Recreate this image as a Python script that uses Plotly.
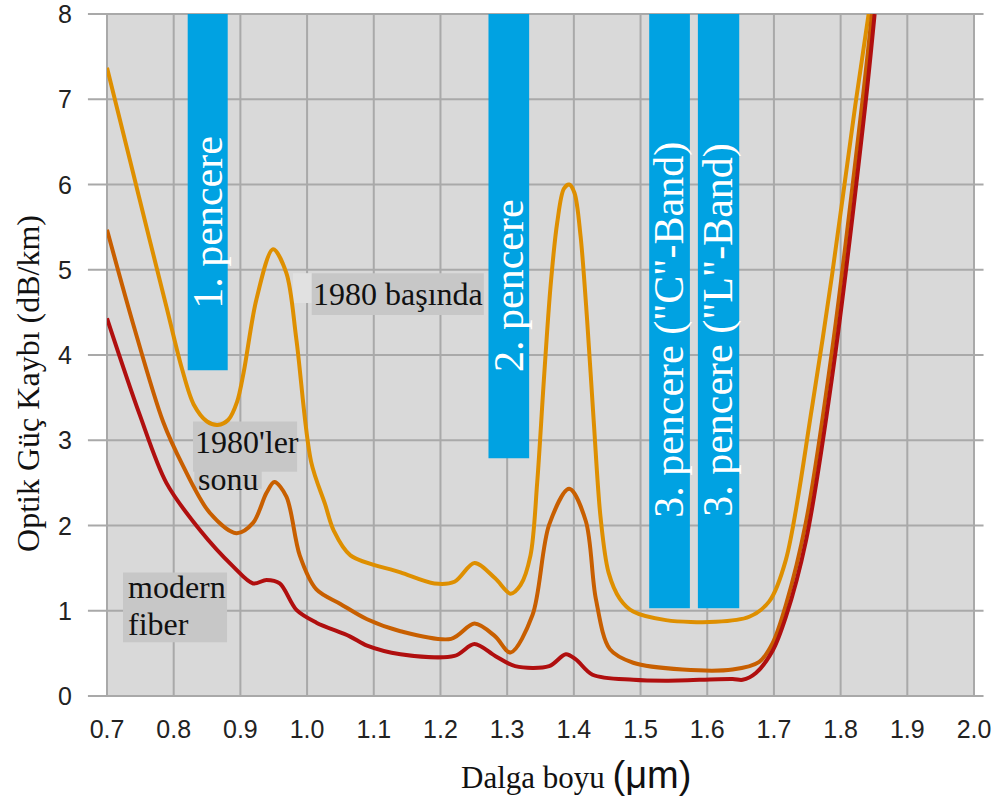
import plotly.graph_objects as go

# Wavelength (µm) and attenuation (dB/km) samples for each fibre generation
wl_early80 = [0.700, 0.739, 0.764, 0.789, 0.812, 0.830, 0.850, 0.866, 0.882, 0.895,
              0.905, 0.924, 0.949, 0.969, 0.984, 1.006, 1.027, 1.040, 1.065, 1.140,
              1.191, 1.221, 1.251, 1.282, 1.305, 1.320, 1.335, 1.345, 1.355, 1.365,
              1.375, 1.385, 1.393, 1.401, 1.410, 1.420, 1.430, 1.440, 1.452, 1.469,
              1.489, 1.538, 1.613, 1.663, 1.693, 1.718, 1.757, 1.787, 1.822, 1.842]
loss_early80 = [7.37, 6.14, 5.35, 4.57, 3.85, 3.42, 3.22, 3.18, 3.24, 3.45,
                3.80, 4.65, 5.24, 4.96, 4.18, 2.75, 2.25, 1.94, 1.65, 1.45,
                1.32, 1.34, 1.56, 1.38, 1.20, 1.30, 1.65, 2.50, 3.70, 4.80,
                5.55, 5.95, 6.00, 5.90, 5.40, 4.40, 3.20, 2.10, 1.45, 1.14,
                0.99, 0.89, 0.87, 0.93, 1.11, 1.60, 3.38, 4.93, 6.93, 8.00]

wl_late80 = [0.700, 0.739, 0.784, 0.814, 0.854, 0.894, 0.919, 0.939, 0.951, 0.969,
             0.989, 1.014, 1.050, 1.090, 1.140, 1.216, 1.251, 1.282, 1.305, 1.338,
             1.363, 1.393, 1.418, 1.433, 1.454, 1.489, 1.563, 1.638, 1.678, 1.698,
             1.718, 1.748, 1.787, 1.832, 1.847]
loss_late80 = [5.47, 4.37, 3.22, 2.70, 2.15, 1.91, 2.03, 2.38, 2.51, 2.34,
               1.65, 1.25, 1.08, 0.90, 0.76, 0.67, 0.85, 0.70, 0.51, 0.95,
               2.01, 2.43, 2.05, 1.14, 0.55, 0.39, 0.31, 0.31, 0.40, 0.62,
               1.07, 2.04, 4.04, 6.93, 8.00]

wl_modern = [0.700, 0.749, 0.789, 0.839, 0.889, 0.919, 0.939, 0.959, 0.984, 1.014,
             1.064, 1.090, 1.140, 1.221, 1.251, 1.282, 1.312, 1.363, 1.388, 1.403,
             1.428, 1.489, 1.538, 1.638, 1.653, 1.673, 1.698, 1.718, 1.748, 1.787,
             1.837, 1.851]
loss_modern = [4.43, 3.30, 2.50, 1.95, 1.52, 1.32, 1.36, 1.32, 1.01, 0.86,
               0.70, 0.59, 0.49, 0.47, 0.61, 0.47, 0.35, 0.35, 0.49, 0.43,
               0.25, 0.19, 0.18, 0.20, 0.19, 0.27, 0.53, 0.93, 1.82, 3.73,
               6.93, 8.00]

# Transmission windows: (start, end, lower edge, caption)
window_start = [0.821, 1.272, 1.513, 1.586]
window_end = [0.881, 1.333, 1.574, 1.648]
window_floor = [3.82, 2.79, 1.03, 1.03]
window_text = ["1. pencere", "2. pencere", '3. pencere ("C"-Band)', '3. pencere ("L"-Band)']
window_text_y = [5.56, 4.82, 4.29, 4.29]

x_ticks = [0.7, 0.8, 0.9, 1.0, 1.1, 1.2, 1.3, 1.4, 1.5, 1.6, 1.7, 1.8, 1.9, 2.0]
x_ticktext = ["0.7", "0.8", "0.9", "1.0", "1.1", "1.2", "1.3", "1.4", "1.5",
              "1.6", "1.7", "1.8", "1.9", "2.0"]
y_ticks = [0, 1, 2, 3, 4, 5, 6, 7, 8]
y_ticktext = ["0", "1", "2", "3", "4", "5", "6", "7", "8"]

X0, X1, Y0, Y1 = 0.7, 2.0, 0.0, 8.0
PLOT_BG = "#d9d9d9"
GRID = "#a9a9a9"
BAR = "#00a2e2"
LABEL_BG = "#c7c7c7"
SERIF = "Liberation Serif"
SANS = "Liberation Sans"


def px(v):
    return (v - X0) / (X1 - X0)


def py(v):
    return (v - Y0) / (Y1 - Y0)


fig = go.Figure()

series = [
    (wl_early80, loss_early80, "#de8f00", "1980 başında"),
    (wl_late80, loss_late80, "#c85f00", "1980'ler sonu"),
    (wl_modern, loss_modern, "#b00f0f", "modern fiber"),
]
for xs, ys, col, name in series:
    fig.add_trace(go.Scatter(
        x=xs, y=ys, mode="lines", name=name,
        line=dict(color=col, width=4, shape="spline", smoothing=0.9),
        hoverinfo="x+y+name",
    ))

shapes = []
# plot background
shapes.append(dict(type="rect", xref="paper", yref="paper", x0=0, x1=1, y0=0, y1=1,
                   fillcolor=PLOT_BG, line=dict(width=0), layer="below"))
# horizontal grid, reaching a little beyond the plotting area
for v in y_ticks:
    shapes.append(dict(type="line", xref="paper", yref="paper", x0=-0.022, x1=1.011,
                       y0=py(v), y1=py(v), line=dict(color=GRID, width=2), layer="below"))
# vertical grid
for v in x_ticks:
    shapes.append(dict(type="line", xref="paper", yref="paper", x0=px(v), x1=px(v),
                       y0=0, y1=1, line=dict(color=GRID, width=2), layer="below"))
# window bars
for a, b, f in zip(window_start, window_end, window_floor):
    shapes.append(dict(type="rect", xref="x", yref="y", x0=a, x1=b, y0=f, y1=Y1,
                       fillcolor=BAR, line=dict(width=0), layer="below"))

# label backgrounds (x in µm, y in dB/km)
label_boxes = [
    (0.979, 1.007, 4.61, 4.96, "#e1e1e1"),
    (1.007, 1.265, 4.47, 4.96, LABEL_BG),
    (0.829, 0.985, 2.63, 3.22, LABEL_BG),
    (0.831, 0.932, 2.43, 2.65, LABEL_BG),
    (0.724, 0.880, 0.63, 1.45, LABEL_BG),
]
for a, b, lo, hi, col in label_boxes:
    shapes.append(dict(type="rect", xref="x", yref="y", x0=a, x1=b, y0=lo, y1=hi,
                       fillcolor=col, line=dict(width=0), layer="below"))

annotations = []
for a, b, t, yc in zip(window_start, window_end, window_text, window_text_y):
    annotations.append(dict(x=(a + b) / 2, y=yc, xref="x", yref="y", text=t,
                            textangle=-90, showarrow=False,
                            font=dict(family=SERIF, size=42, color="white"),
                            xanchor="center", yanchor="middle"))

# y tick labels, right-aligned left of the extended grid lines
for v, t in zip(y_ticks, y_ticktext):
    annotations.append(dict(x=-0.038, y=v, xref="paper", yref="y", text=t,
                            showarrow=False, xanchor="right", yanchor="middle",
                            font=dict(family=SANS, size=25, color="#222222")))

label_font = dict(family=SERIF, size=32, color="#111111")
annotations += [
    dict(x=1.136, y=4.72, xref="x", yref="y", text="1980 başında", showarrow=False,
         font=label_font, xanchor="center", yanchor="middle"),
    dict(x=0.829, y=2.98, xref="x", yref="y", text="1980'ler", showarrow=False,
         font=label_font, xanchor="left", yanchor="middle"),
    dict(x=0.834, y=2.55, xref="x", yref="y", text="sonu", showarrow=False,
         font=label_font, xanchor="left", yanchor="middle"),
    dict(x=0.729, y=1.28, xref="x", yref="y", text="modern", showarrow=False,
         font=label_font, xanchor="left", yanchor="middle"),
    dict(x=0.729, y=0.84, xref="x", yref="y", text="fiber", showarrow=False,
         font=label_font, xanchor="left", yanchor="middle"),
    # axis titles
    dict(x=-0.092, y=0.458, xref="paper", yref="paper",
         text="Optik Güç Kaybı (dB/km)", textangle=-90, showarrow=False,
         font=dict(family=SERIF, size=32, color="#111111"),
         xanchor="center", yanchor="middle"),
    dict(x=0.541, y=-0.116, xref="paper", yref="paper",
         text='Dalga boyu <span style="font-family:Liberation Sans;font-size:38px">(μm)</span>',
         showarrow=False, font=dict(family=SERIF, size=31, color="#111111"),
         xanchor="center", yanchor="middle"),
]

fig.update_layout(
    width=1003, height=799,
    margin=dict(l=107, r=27, t=14, b=103),
    paper_bgcolor="white",
    plot_bgcolor="rgba(0,0,0,0)",
    showlegend=False,
    shapes=shapes,
    annotations=annotations,
    xaxis=dict(range=[X0, X1], tickvals=x_ticks, ticktext=x_ticktext,
               showgrid=False, zeroline=False, showline=False, ticks="",
               ticklabelstandoff=16,
               tickfont=dict(family=SANS, size=25, color="#222222")),
    yaxis=dict(range=[Y0, Y1], showticklabels=False,
               showgrid=False, zeroline=False, showline=False, ticks=""),
)

fig.write_html("out.html")
